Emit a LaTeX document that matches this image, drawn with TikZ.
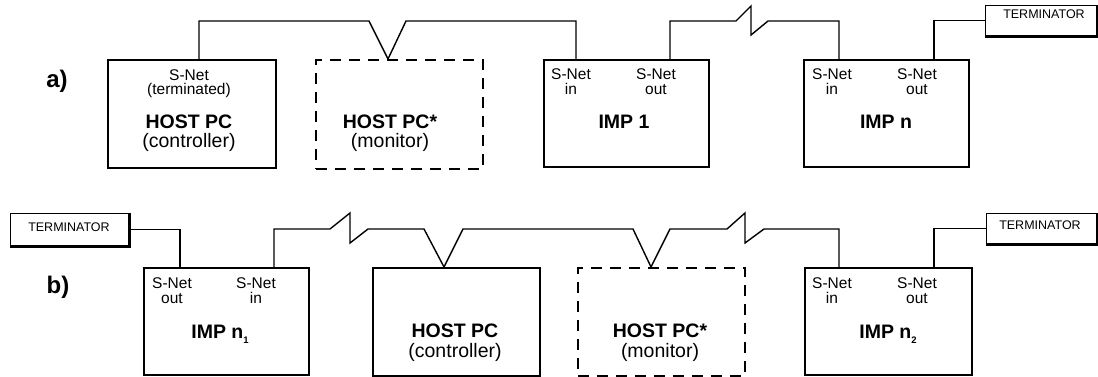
\documentclass[tikz,border=0pt]{standalone}
\usepackage{fontspec}
\setmainfont{Liberation Sans}
\usetikzlibrary{calc}
\newcommand\subidx[1]{\raisebox{-0.3em}{\fontsize{9.5}{9.5}\selectfont #1}}
\begin{document}
\begin{tikzpicture}[x=1pt,y=-1pt,
  box/.style={draw, line width=1.8pt, inner sep=0pt, anchor=north west},
  dbox/.style={box, dash pattern=on 11pt off 8pt},
  termbox/.style={draw, line width=1.3pt, inner sep=0pt, anchor=north west},
  shadowline/.style={line width=2.8pt},
  wire/.style={line width=1.4pt, line join=miter},
  small/.style={font=\fontsize{15.5}{16}\selectfont, anchor=base, inner sep=0pt},
  big/.style={font=\fontsize{19.5}{20}\selectfont\bfseries, anchor=base, inner sep=0pt},
  reg/.style={font=\fontsize{19.5}{20}\selectfont, anchor=base, inner sep=0pt},
  termtxt/.style={font=\fontsize{12.5}{12.5}\selectfont, anchor=base, inner sep=0pt},
  lab/.style={font=\fontsize{24}{24}\selectfont\bfseries, anchor=base, inner sep=0pt}
]
\useasboundingbox (0,0) rectangle (1098,377);

% ---------- row a ----------
\node[lab] (la) at (57,88) {a)};
\node[box, minimum width=168pt, minimum height=108pt] (hpc) at (107,59) {};
\node[dbox, minimum width=167pt, minimum height=109pt] (hpcs) at (315,59) {};
\node[box, minimum width=165pt, minimum height=107pt] (imp1) at (543,59) {};
\node[box, minimum width=165pt, minimum height=107pt] (impn) at (803,59) {};
\node[termbox, minimum width=111pt, minimum height=30pt] (term1) at (985,5) {};
\draw[shadowline] (term1.south west) -| (term1.north east);

\draw[wire] ([xshift=92pt]hpc.north west) |- (369,21) -- ([xshift=73pt]hpcs.north west)
  -- (406,21) -| ([xshift=33pt]imp1.north west);
\draw[wire] ([xshift=127pt]imp1.north west) |- (736,21) -- (751,6) -- (751,35) -- (768,21)
  -| ([xshift=36pt]impn.north west);
\draw[wire] ([xshift=131pt]impn.north west) |- (term1.west);

\node[small] (t1) at (189,81) {S-Net};
\node[small] (t2) at (189,95) {(terminated)};
\node[big] (t3) at (189,129) {HOST PC};
\node[reg] (t4) at (189,148) {(controller)};
\node[big] (t5) at (390,129) {HOST PC*};
\node[reg] (t6) at (390,148) {(monitor)};
\node[small] (t7) at (571,80) {S-Net};
\node[small] (t8) at (571,95) {in};
\node[small] (t9) at (656,80) {S-Net};
\node[small] (t10) at (656,95) {out};
\node[big] (t11) at (624,129) {IMP 1};
\node[small] (t12) at (832,80) {S-Net};
\node[small] (t13) at (832,95) {in};
\node[small] (t14) at (917,80) {S-Net};
\node[small] (t15) at (917,95) {out};
\node[big] (t16) at (886,129) {IMP n};
\node[termtxt] (t17) at (1044,19) {TERMINATOR};

% ---------- row b ----------
\node[lab] (lb) at (58,293) {b)};
\node[termbox, minimum width=118pt, minimum height=32pt] (termL) at (10,213) {};
\draw[shadowline] (termL.south west) -| (termL.north east);
\node[box, minimum width=165pt, minimum height=107pt] (impa) at (143,267) {};
\node[box, minimum width=167pt, minimum height=108pt] (hpc2) at (372,267) {};
\node[dbox, minimum width=167pt, minimum height=108pt] (hpcs2) at (577,267) {};
\node[box, minimum width=167pt, minimum height=107pt] (impb) at (804,267) {};
\node[termbox, minimum width=110pt, minimum height=30pt] (termR) at (986,213) {};
\draw[shadowline] (termR.south west) -| (termR.north east);

\draw[wire] (termL.east) -| ([xshift=37pt]impa.north west);
\draw[wire] ([xshift=131pt]impa.north west) |- (330,229) -- (350,213) -- (350,243) -- (368,229)
  -- (424,229) -- ([xshift=72pt]hpc2.north west) -- (463,229) -- (633,229)
  -- ([xshift=74pt]hpcs2.north west) -- (670,229) -- (727,229) -- (745,213) -- (745,243)
  -- (764,229) -| ([xshift=35pt]impb.north west);
\draw[wire] ([xshift=130pt]impb.north west) |- (termR.west);

\node[termtxt] (u1) at (69,231) {TERMINATOR};
\node[small] (u2) at (172,288) {S-Net};
\node[small] (u3) at (172,303) {out};
\node[small] (u4) at (256,288) {S-Net};
\node[small] (u5) at (256,303) {in};
\node[big] (u6) at (220,338) {IMP n\subidx{1}};
\node[big] (u7) at (455,337) {HOST PC};
\node[reg] (u8) at (455,357) {(controller)};
\node[big] (u9) at (660,337) {HOST PC*};
\node[reg] (u10) at (660,357) {(monitor)};
\node[small] (u11) at (832,288) {S-Net};
\node[small] (u12) at (832,303) {in};
\node[small] (u13) at (917,288) {S-Net};
\node[small] (u14) at (917,303) {out};
\node[big] (u15) at (888,338) {IMP n\subidx{2}};
\node[termtxt] (u16) at (1040,229) {TERMINATOR};
\end{tikzpicture}
\end{document}
